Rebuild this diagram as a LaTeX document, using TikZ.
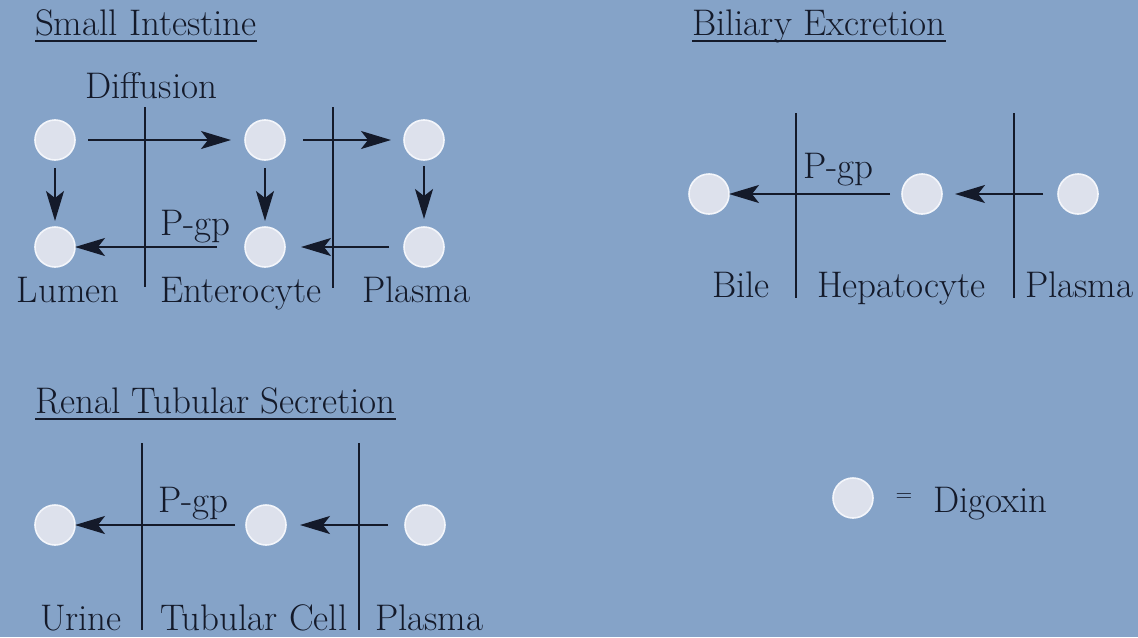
\documentclass[tikz,border=0pt]{standalone}
\usetikzlibrary{arrows.meta}
\definecolor{bg}{RGB}{133,163,200}
\definecolor{ink}{RGB}{20,26,42}
\definecolor{drug}{RGB}{221,225,236}
\definecolor{rim}{RGB}{244,246,251}

\begin{document}
\begin{tikzpicture}[x=0.5pt,y=-0.5pt,
  every node/.style={inner sep=0pt, outer sep=0pt, text=ink,
                     font=\fontsize{18.5}{22}\selectfont},
  mol/.style={circle, fill=drug, draw=rim, line width=0.8pt, minimum size=20pt},
  lbl/.style={anchor=base west},
  membrane/.style={draw=ink, line width=0.8pt},
  flow/.style={draw=ink, line width=0.9pt,
               -{Stealth[length=15pt,width=9pt,inset=3.5pt]}},
  uline/.style={draw=ink, line width=0.7pt}]

% background / page frame
\fill[bg] (0,0) rectangle (1138,637);
\useasboundingbox (0,0) rectangle (1138,637);

% ---------------- Small intestine ----------------
\node[lbl] (siT) at (35,35) {Small Intestine};
\draw[uline] ([yshift=-3pt]siT.base west) -- ([yshift=-3pt]siT.base east);
\node[lbl] (diff) at (85,98) {Diffusion};

\coordinate (m1t) at (145,107); \coordinate (m1b) at (145,287);
\coordinate (m2t) at (333,107); \coordinate (m2b) at (333,288);
\draw[membrane] (m1t) -- (m1b);
\draw[membrane] (m2t) -- (m2b);

\node[mol] (a1) at (55,140) {};
\node[mol] (a2) at (265,140) {};
\node[mol] (a3) at (424,140) {};
\node[mol] (b1) at (55,247) {};
\node[mol] (b2) at (265,247) {};
\node[mol] (b3) at (424,247) {};

\draw[flow, shorten <=6.5pt, shorten >=7pt] (a1) -- (a2);
\draw[flow, shorten <=9pt, shorten >=6.5pt] (a2) -- (a3);
\draw[flow, shorten <=4pt, shorten >=3pt] (a1) -- (b1);
\draw[flow, shorten <=4pt, shorten >=3pt] (a2) -- (b2);
\draw[flow, shorten <=3pt, shorten >=4pt] (a3) -- (b3);
\draw[flow, shorten <=14pt, shorten >=0pt] (b2) -- (b1);
\draw[flow, shorten <=7.5pt, shorten >=8pt] (b3) -- (b2);
\node[lbl] (siP) at (160,235) {P-gp};

\node[lbl] (lum) at (17,302) {Lumen};
\node[lbl] (ent) at (160,302) {Enterocyte};
\node[lbl] (pl1) at (362,302) {Plasma};

% ---------------- Biliary excretion ----------------
\node[lbl] (beT) at (692,35) {Biliary Excretion};
\draw[uline] ([yshift=-3pt]beT.base west) -- ([yshift=-3pt]beT.base east);

\coordinate (h1t) at (796,113); \coordinate (h1b) at (796,298);
\coordinate (h2t) at (1014,113); \coordinate (h2b) at (1014,298);
\draw[membrane] (h1t) -- (h1b);
\draw[membrane] (h2t) -- (h2b);

\node[mol] (c1) at (709,194) {};
\node[mol] (c2) at (922,194) {};
\node[mol] (c3) at (1078,194) {};
\draw[flow, shorten <=6pt, shorten >=0pt] (c2) -- (c1);
\draw[flow, shorten <=7.5pt, shorten >=6.5pt] (c3) -- (c2);
\node[lbl] (beP) at (803,178) {P-gp};

\node[lbl] (bil) at (712,297) {Bile};
\node[lbl] (hep) at (817,297) {Hepatocyte};
\node[lbl] (pl2) at (1025,297) {Plasma};

% ---------------- Renal tubular secretion ----------------
\node[lbl] (rtT) at (35,413) {Renal Tubular Secretion};
\draw[uline] ([yshift=-3pt]rtT.base west) -- ([yshift=-3pt]rtT.base east);

\coordinate (r1t) at (142,443); \coordinate (r1b) at (142,630);
\coordinate (r2t) at (359,443); \coordinate (r2b) at (359,630);
\draw[membrane] (r1t) -- (r1b);
\draw[membrane] (r2t) -- (r2b);

\node[mol] (d1) at (55,525) {};
\node[mol] (d2) at (266,525) {};
\node[mol] (d3) at (425,525) {};
\draw[flow, shorten <=5.5pt, shorten >=0pt] (d2) -- (d1);
\draw[flow, shorten <=8.5pt, shorten >=7pt] (d3) -- (d2);
\node[lbl] (rtP) at (158,512) {P-gp};

\node[lbl] (uri) at (40,630) {Urine};
\node[lbl] (tub) at (160,630) {Tubular Cell};
\node[lbl] (pl3) at (375,630) {Plasma};

% ---------------- Legend ----------------
\node[mol] (key) at (853,498) {};
\node[font=\fontsize{11}{11}\selectfont] (eq) at (904,498) {=};
\node[lbl] (dig) at (933,512) {Digoxin};

\end{tikzpicture}
\end{document}
